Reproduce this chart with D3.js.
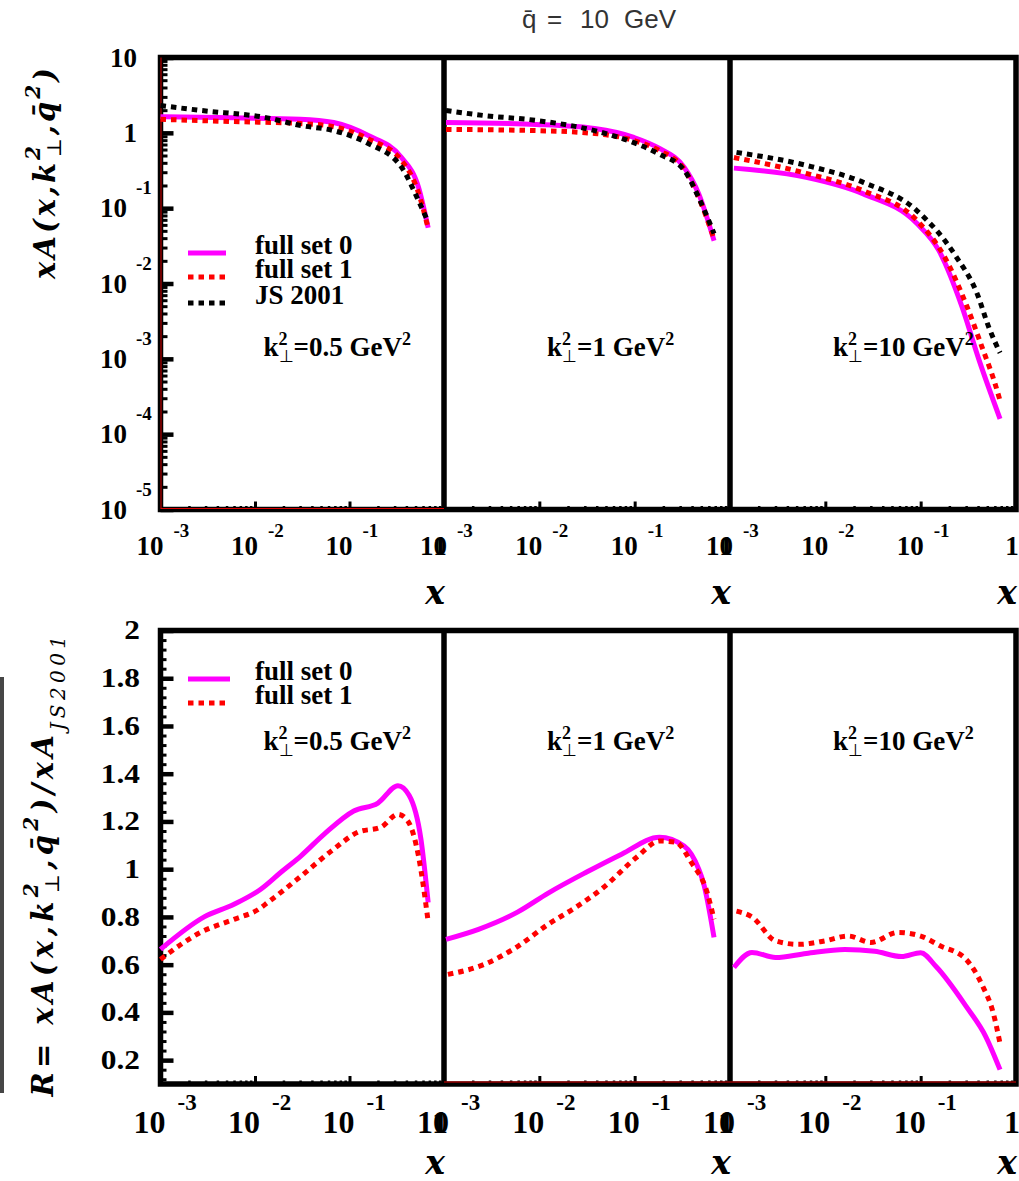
<!DOCTYPE html>
<html>
<head>
<meta charset="utf-8">
<script src="https://cdn.jsdelivr.net/npm/d3@7"></script>
<style>
  body { margin: 0; background: #fff; }
  svg { display: block; }
</style>
</head>
<body>
<div id="chart"></div>
<script>
// k_perp^2 of each column (GeV^2)
const kt2Values = ["0.5", "1", "10"];

// tick values
const xLabelTicks = [1e-3, 1e-2, 1e-1, 1];
const xMajorTicks = [1e-2, 1e-1];
const yMajorTop = [1e-5, 1e-4, 1e-3, 1e-2, 1e-1, 1, 10];
const yLabelsBottom = [0.2, 0.4, 0.6, 0.8, 1, 1.2, 1.4, 1.6, 1.8, 2];

// upper row: xA(x, kt2, qbar2) for each kt2 column, pairs [x, xA]
const set0Top = [
  [[0.001, 1.64], [0.006, 1.58], [0.03, 1.52], [0.068, 1.37], [0.158, 0.92], [0.355, 0.47], [0.537, 0.19], [0.68, 0.055]],
  [[0.00105, 1.37], [0.0093, 1.29], [0.038, 1.14], [0.098, 0.87], [0.182, 0.62], [0.33, 0.35], [0.47, 0.155], [0.68, 0.037]],
  [[0.0011, 0.34], [0.0063, 0.257], [0.025, 0.155], [0.091, 0.063], [0.155, 0.0275], [0.27, 0.005], [0.41, 0.00096], [0.68, 0.00016]]
];
const set1Top = [
  [[0.001, 1.51], [0.006, 1.41], [0.03, 1.33], [0.068, 1.21], [0.158, 0.83], [0.355, 0.43], [0.537, 0.16], [0.68, 0.054]],
  [[0.00105, 1.11], [0.0093, 1.07], [0.038, 0.98], [0.098, 0.79], [0.182, 0.58], [0.33, 0.33], [0.47, 0.138], [0.68, 0.039]],
  [[0.0011, 0.47], [0.0063, 0.29], [0.025, 0.17], [0.091, 0.069], [0.18, 0.022], [0.309, 0.0048], [0.443, 0.0014], [0.59, 0.00051], [0.68, 0.00028]]
];
const js2001Top = [
  [[0.001, 2.3], [0.0027, 1.98], [0.0135, 1.58], [0.0305, 1.25], [0.068, 1.07], [0.158, 0.72], [0.355, 0.35], [0.537, 0.126], [0.68, 0.065]],
  [[0.00105, 1.98], [0.0026, 1.7], [0.0093, 1.46], [0.038, 1.07], [0.098, 0.74], [0.182, 0.52], [0.33, 0.32], [0.47, 0.138], [0.68, 0.046]],
  [[0.00117, 0.55], [0.0063, 0.37], [0.025, 0.22], [0.091, 0.093], [0.232, 0.0234], [0.39, 0.0074], [0.52, 0.0026], [0.68, 0.0012]]
];

// lower row: R = xA / xA_JS2001
const set0Ratio = [
  [[0.001, 0.664], [0.0029, 0.80], [0.006, 0.853], [0.0115, 0.916], [0.0188, 0.987], [0.0305, 1.055], [0.054, 1.147], [0.111, 1.244], [0.2, 1.277], [0.326, 1.35], [0.427, 1.31], [0.57, 1.126], [0.68, 0.86]],
  [[0.00105, 0.706], [0.0023, 0.748], [0.0059, 0.82], [0.0124, 0.90], [0.031, 0.987], [0.073, 1.063], [0.182, 1.134], [0.33, 1.097], [0.47, 1.0], [0.525, 0.945], [0.68, 0.714]],
  [[0.0011, 0.588], [0.0017, 0.651], [0.003, 0.630], [0.0063, 0.647], [0.016, 0.664], [0.033, 0.656], [0.063, 0.634], [0.1, 0.65], [0.145, 0.592], [0.3, 0.425], [0.48, 0.30], [0.68, 0.16]]
];
const set1Ratio = [
  [[0.001, 0.622], [0.00265, 0.735], [0.006, 0.79], [0.0107, 0.83], [0.0136, 0.86], [0.0305, 0.97], [0.068, 1.084], [0.123, 1.155], [0.215, 1.176], [0.326, 1.23], [0.417, 1.20], [0.537, 1.055], [0.68, 0.78]],
  [[0.0011, 0.559], [0.0026, 0.60], [0.0059, 0.676], [0.0124, 0.769], [0.024, 0.84], [0.046, 0.92], [0.105, 1.05], [0.182, 1.118], [0.27, 1.113], [0.39, 1.03], [0.575, 0.903], [0.68, 0.79]],
  [[0.00117, 0.824], [0.0017, 0.80], [0.003, 0.70], [0.0052, 0.685], [0.01, 0.70], [0.0174, 0.72], [0.03, 0.693], [0.0575, 0.735], [0.1, 0.72], [0.158, 0.68], [0.3, 0.622], [0.447, 0.51], [0.575, 0.40], [0.68, 0.27]]
];

const width = 1019, height = 1181;
const edges = [160.5, 444, 730, 1016];
const rows = [{top: 57.5, bottom: 509.5}, {top: 630.5, bottom: 1084}];
const serif = "'Liberation Serif', 'Times New Roman', serif";
const slab = "'DejaVu Serif', serif";

const svg = d3.select("#chart").append("svg")
    .attr("width", width)
    .attr("height", height);

const xScales = [0, 1, 2].map(i =>
  d3.scaleLog().domain([1e-3, 1]).range([edges[i], edges[i + 1]]));
const yTop = d3.scaleLog().domain([1e-5, 10]).range([rows[0].bottom, rows[0].top]);
const yBot = d3.scaleLinear().domain([0.1, 2]).range([rows[1].bottom, rows[1].top]);

// minor tick positions
const yMinorTop = [];
[1e-5, 1e-4, 1e-3, 1e-2, 1e-1, 1].forEach(d => d3.range(2, 10).forEach(k => yMinorTop.push(k * d)));
const yMinorBot = d3.range(0.12, 2, 0.04).filter(v => Math.abs(v / 0.2 - Math.round(v / 0.2)) > 1e-6);
const xMinor = [];
[1e-3, 1e-2, 1e-1].forEach(d => d3.range(2, 10).forEach(k => xMinor.push(k * d)));

function tickGroup(axis, tx, ty, w) {
  const g = svg.append("g").attr("transform", `translate(${tx},${ty})`).call(axis);
  g.select(".domain").remove();
  g.selectAll("line").attr("stroke", "#000").attr("stroke-width", w);
  return g;
}

// left axis ticks
tickGroup(d3.axisRight(yTop).tickValues(yMajorTop).tickSize(13).tickFormat(""), edges[0], 0, 4.5);
tickGroup(d3.axisRight(yTop).tickValues(yMinorTop).tickSize(7).tickFormat(""), edges[0], 0, 3);
tickGroup(d3.axisRight(yBot).tickValues(yLabelsBottom).tickSize(13).tickFormat(""), edges[0], 0, 4.5);
tickGroup(d3.axisRight(yBot).tickValues(yMinorBot).tickSize(6).tickFormat(""), edges[0], 0, 3);

// bottom ticks of every panel
rows.forEach(r => xScales.forEach(x => {
  tickGroup(d3.axisTop(x).tickValues(xMajorTicks).tickSize(8).tickFormat(""), 0, r.bottom, 3);
  tickGroup(d3.axisTop(x).tickValues(xMinor).tickSize(3.5).tickFormat(""), 0, r.bottom, 2.5);
}));

// frames
rows.forEach(r => {
  svg.append("rect")
      .attr("x", edges[0]).attr("y", r.top)
      .attr("width", edges[3] - edges[0]).attr("height", r.bottom - r.top)
      .attr("fill", "none").attr("stroke", "#000").attr("stroke-width", 5.5);
  [edges[1], edges[2]].forEach(xe => svg.append("line")
      .attr("x1", xe).attr("x2", xe).attr("y1", r.top).attr("y2", r.bottom)
      .attr("stroke", "#000").attr("stroke-width", 5.5));
});

// thin red traces where curves run off scale
svg.append("line")
    .attr("x1", xScales[0](1e-3) + 0.5).attr("x2", xScales[0](1e-3) + 0.5)
    .attr("y1", yTop(10)).attr("y2", yTop(1e-5) - 1)
    .attr("stroke", "#d00").attr("stroke-width", 1);
svg.append("line")
    .attr("x1", xScales[0](1e-3)).attr("x2", xScales[0](1))
    .attr("y1", yTop(1e-5) - 1).attr("y2", yTop(1e-5) - 1)
    .attr("stroke", "#d00").attr("stroke-width", 1);
svg.append("line")
    .attr("x1", xScales[1](1e-3)).attr("x2", xScales[2](1))
    .attr("y1", yBot(0.1) - 2).attr("y2", yBot(0.1) - 2)
    .attr("stroke", "#d00").attr("stroke-width", 1);

// curves
const styles = {
  set0: {stroke: "#ff00ff", dash: null},
  set1: {stroke: "#ff0000", dash: "5.5,5"},
  js:   {stroke: "#000000", dash: "5.5,5"}
};
function drawCurve(data, x, y, st) {
  const line = d3.line().x(d => x(d[0])).y(d => y(d[1])).curve(d3.curveMonotoneX);
  svg.append("path")
      .datum(data)
      .attr("d", line)
      .attr("fill", "none")
      .attr("stroke", st.stroke)
      .attr("stroke-width", 5)
      .attr("stroke-dasharray", st.dash);
}
[0, 1, 2].forEach(i => {
  drawCurve(set0Top[i], xScales[i], yTop, styles.set0);
  drawCurve(set1Top[i], xScales[i], yTop, styles.set1);
  drawCurve(js2001Top[i], xScales[i], yTop, styles.js);
  drawCurve(set0Ratio[i], xScales[i], yBot, styles.set0);
  drawCurve(set1Ratio[i], xScales[i], yBot, styles.set1);
});

// y tick labels, upper row (log)
yMajorTop.forEach(v => {
  const e = Math.round(Math.log10(v));
  const y = yTop(v);
  if (e >= 0) {
    svg.append("text").attr("x", 137).attr("y", y + 9)
        .attr("text-anchor", "end").attr("font-family", serif)
        .attr("font-weight", "bold").attr("font-size", 27)
        .text(e === 0 ? "1" : "10");
  } else {
    svg.append("text").attr("x", 127).attr("y", y + 9)
        .attr("text-anchor", "end").attr("font-family", serif)
        .attr("font-weight", "bold").attr("font-size", 27).text("10");
    svg.append("text").attr("x", 136).attr("y", y - 14)
        .attr("font-family", serif).attr("font-weight", "bold")
        .attr("font-size", 19).text(String(e));
  }
});

// y tick labels, lower row
yLabelsBottom.forEach(v => {
  svg.append("text").attr("x", 140).attr("y", yBot(v) + 9)
      .attr("text-anchor", "end").attr("font-family", serif)
      .attr("font-weight", "bold").attr("font-size", 28)
      .attr("transform", `translate(140,0) scale(1.12,1) translate(-140,0)`)
      .text(String(v));
});

// x tick labels for every panel
const xLabelStyle = [
  {base: 555, size: 27, supBase: 537, supSize: 19, dx: 3, supDx: 13},
  {base: 1133, size: 32, supBase: 1110, supSize: 23, dx: 5, supDx: 17}
];
xLabelStyle.forEach(s => xScales.forEach(x => {
  xLabelTicks.forEach(v => {
    const e = Math.round(Math.log10(v));
    const px = x(v);
    if (e === 0) {
      svg.append("text").attr("x", px - 4).attr("y", s.base)
          .attr("text-anchor", "middle").attr("font-family", serif)
          .attr("font-weight", "bold").attr("font-size", s.size).text("1");
    } else {
      svg.append("text").attr("x", px + s.dx).attr("y", s.base)
          .attr("text-anchor", "end").attr("font-family", serif)
          .attr("font-weight", "bold").attr("font-size", s.size).text("10");
      svg.append("text").attr("x", px + s.supDx).attr("y", s.supBase)
          .attr("font-family", serif).attr("font-weight", "bold")
          .attr("font-size", s.supSize).text(String(e));
    }
  });
}));

// x axis titles
[604, 1174].forEach(yb => edges.slice(1).forEach(xe => {
  svg.append("text").attr("x", xe + 1).attr("y", yb)
      .attr("text-anchor", "end").attr("font-family", slab)
      .attr("font-weight", "bold").attr("font-style", "italic")
      .attr("font-size", 33).text("x");
}));

// kt2 annotations
function ktLabel(x0, yb, val) {
  const t = svg.append("text").attr("x", x0).attr("y", yb)
      .attr("font-family", serif).attr("font-weight", "bold").attr("font-size", 27);
  t.append("tspan").text("k");
  t.append("tspan").attr("font-size", 18).attr("dy", -11).text("2");
  t.append("tspan").attr("font-size", 17).attr("dx", -9).attr("dy", 17).attr("font-weight", "normal").text("\u22a5");
  t.append("tspan").attr("dy", -6).text(`=${val} GeV`);
  t.append("tspan").attr("font-size", 18).attr("dy", -11).text("2");
}
[356, 750].forEach(yb => kt2Values.forEach((val, i) => ktLabel(edges[i] + 103, yb, val)));

// legends
function legend(items, x0, x1, ys) {
  items.forEach((it, i) => {
    svg.append("line").attr("x1", x0).attr("x2", x1).attr("y1", ys[i]).attr("y2", ys[i])
        .attr("stroke", it.st.stroke).attr("stroke-width", 5)
        .attr("stroke-dasharray", it.st.dash);
    svg.append("text").attr("x", 255).attr("y", ys[i] + 1)
        .attr("font-family", serif).attr("font-weight", "bold")
        .attr("font-size", 27).text(it.name);
  });
}
legend([{name: "full set 0", st: styles.set0}, {name: "full set 1", st: styles.set1}, {name: "JS 2001", st: styles.js}],
       188, 226, [253, 277, 303]);
legend([{name: "full set 0", st: styles.set0}, {name: "full set 1", st: styles.set1}],
       188, 230, [679, 703]);

// y axis titles
function yTitle(tx, ty, prefix, withRatio, spacing) {
  const t = svg.append("text").attr("transform", `translate(${tx},${ty}) rotate(-90)`)
      .attr("text-anchor", "middle").attr("font-family", slab)
      .attr("font-weight", "bold").attr("font-style", "italic")
      .attr("font-size", 29).attr("letter-spacing", spacing);
  t.append("tspan").text(prefix + "xA(x,k");
  t.append("tspan").attr("font-size", 20).attr("dy", -15).text("2");
  t.append("tspan").attr("font-size", 20).attr("dx", -14).attr("dy", 21)
      .attr("font-style", "normal").attr("font-weight", "normal").text("\u22a5");
  t.append("tspan").attr("dy", -6).text(",q\u0304");
  t.append("tspan").attr("font-size", 20).attr("dy", -15).text("2");
  if (withRatio) {
    t.append("tspan").attr("dy", 15).text(")/xA");
    t.append("tspan").attr("font-size", 20).attr("dy", 12).attr("font-weight", "normal").text("JS2001");
  } else {
    t.append("tspan").attr("dy", 15).text(")");
  }
}
yTitle(55, 172, "", false, 3);
yTitle(53, 864, "R=  ", true, 4.4);

// grey bar at the page edge
svg.append("rect").attr("x", 0).attr("y", 677).attr("width", 4).attr("height", 416).attr("fill", "#464646");

// title
const title = svg.append("text").attr("y", 28)
    .attr("font-family", "'Liberation Sans', Arial, sans-serif")
    .attr("font-size", 26).attr("fill", "#333");
title.append("tspan").attr("x", 522).text("q\u0304");
title.append("tspan").attr("x", 547).text("=");
title.append("tspan").attr("x", 580).text("10");
title.append("tspan").attr("x", 624).text("GeV");
</script>
</body>
</html>
